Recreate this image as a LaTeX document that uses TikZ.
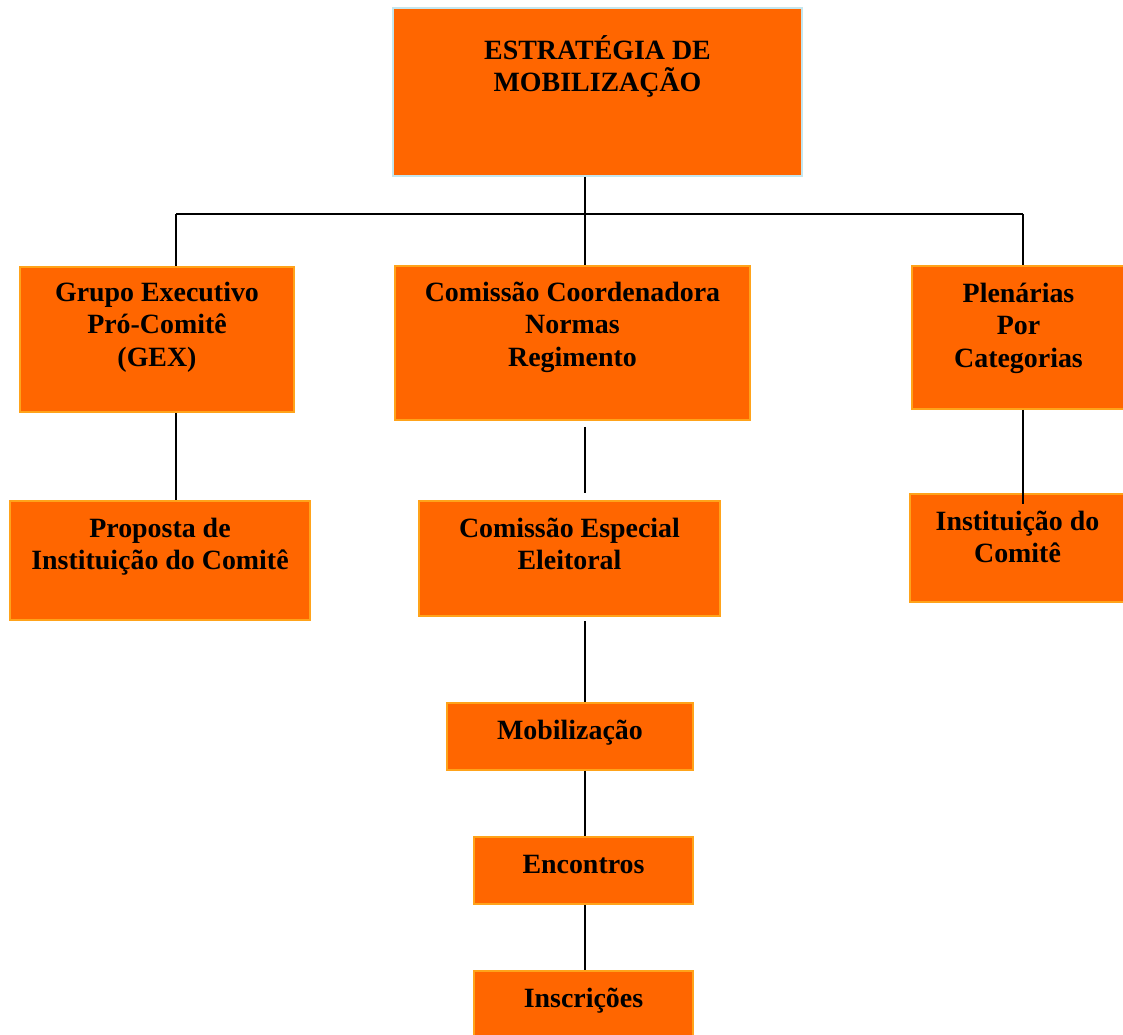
\documentclass[tikz,border=0pt]{standalone}
\usepackage{fontspec}
\setmainfont{Liberation Serif}
\definecolor{laranja}{HTML}{FF6600}
\definecolor{borda}{HTML}{FFA31A}
\definecolor{azulclaro}{HTML}{C4E6EE}
\newdimen\px \px=0.43pt
% box of fixed size, text from the top
\newcommand{\caixa}[4]{\parbox[c][#2\px][t]{#1\px}{\centering\rule{0pt}{#3\px}#4}}
\begin{document}
\begin{tikzpicture}[x=1\px, y=-1\px, line width=0.85pt,
        main/.style = {draw=borda, line width=0.7pt, fill=laranja, inner sep=0pt, font=\fontsize{12}{14}\selectfont\bfseries}]
    \useasboundingbox (0,0) rectangle (1123,1035);
    \node[main, draw=azulclaro] (1) at (597.5,92) {\caixa{409}{168}{51}{ESTRATÉGIA DE\\MOBILIZAÇÃO}};
    \node[main] (2) at (157,339.5) {\caixa{274}{145}{34}{Grupo Executivo\\Pró-Comitê\\(GEX)}};
    \node[main] (3) at (572.5,343) {\caixa{355}{154}{35}{Comissão Coordenadora\\Normas\\Regimento}};
    \node[main] (4) at (1018.5,337.5) {\caixa{213}{143}{36}{Plenárias\\Por\\Categorias}};
    \node[main] (5) at (160,560.5) {\caixa{300}{119}{36}{Proposta de\\Instituição do Comitê}};
    \node[main] (6) at (569.5,558.5) {\caixa{301}{115}{36}{Comissão Especial\\Eleitoral}};
    \node[main] (7) at (1017.5,548) {\caixa{215}{108}{36}{Instituição do\\Comitê}};
    \node[main] (8) at (570,736.5) {\caixa{246}{67}{36}{Mobilização}};
    \node[main] (9) at (583.5,870.5) {\caixa{219}{67}{36}{Encontros}};
    \node[main] (10) at (583.5,1004.5) {\caixa{219}{67}{36}{Inscrições}};
    \coordinate (a) at (176,214);
    \coordinate (b) at (585,214);
    \coordinate (c) at (1023,214);
    \draw (a) -- (c);
    \draw (1.south -| b) -- (b) -- (3.north -| b);
    \draw (a) -- (2.north -| a);
    \draw (c) -- (4.north -| c);
    \draw (2.south -| a) -- (5.north -| a);
    \draw[shorten <=2.6pt, shorten >=3pt] (3.south -| b) -- (6.north -| b);
    \draw[shorten <=2pt] (6.south -| b) -- (8.north -| b);
    \draw (8.south -| b) -- (9.north -| b);
    \draw (9.south -| b) -- (10.north -| b);
    \draw[shorten >=-4.7pt] (4.south -| c) -- (7.north -| c);
\end{tikzpicture}
\end{document}
